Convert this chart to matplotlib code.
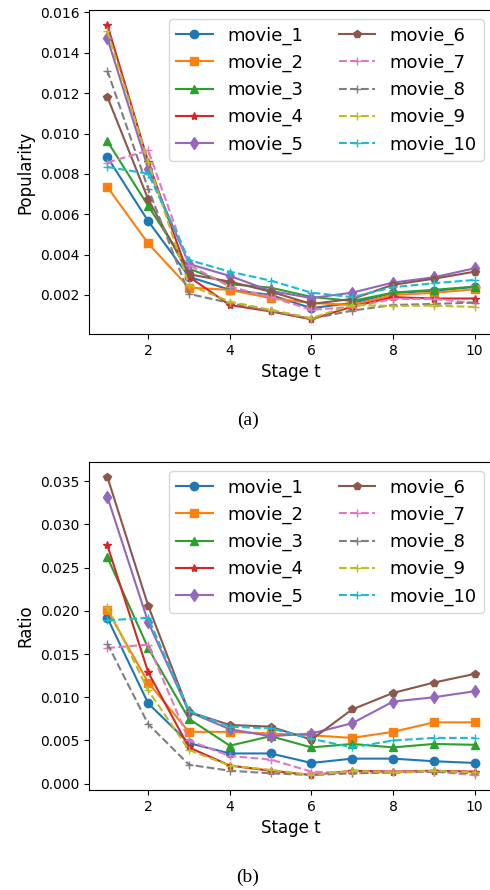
import matplotlib.pyplot as plt

stages = [1, 2, 3, 4, 5, 6, 7, 8, 9, 10]
names = ["movie_1", "movie_2", "movie_3", "movie_4", "movie_5",
         "movie_6", "movie_7", "movie_8", "movie_9", "movie_10"]

# (a) popularity per stage
popularity = {
    "movie_1": [0.00883, 0.00566, 0.00290, 0.00225, 0.00200, 0.00134, 0.00160, 0.00210, 0.00220, 0.00240],
    "movie_2": [0.00735, 0.00455, 0.00236, 0.00225, 0.00184, 0.00160, 0.00150, 0.00200, 0.00210, 0.00228],
    "movie_3": [0.00962, 0.00641, 0.00330, 0.00253, 0.00236, 0.00190, 0.00170, 0.00211, 0.00225, 0.00241],
    "movie_4": [0.01539, 0.00860, 0.00290, 0.00150, 0.00118, 0.00079, 0.00142, 0.00189, 0.00182, 0.00182],
    "movie_5": [0.01473, 0.00826, 0.00353, 0.00294, 0.00220, 0.00184, 0.00211, 0.00261, 0.00287, 0.00332],
    "movie_6": [0.01182, 0.00674, 0.00302, 0.00266, 0.00216, 0.00155, 0.00180, 0.00250, 0.00280, 0.00315],
    "movie_7": [0.00856, 0.00916, 0.00348, 0.00241, 0.00190, 0.00126, 0.00140, 0.00180, 0.00180, 0.00160],
    "movie_8": [0.01312, 0.00727, 0.00205, 0.00160, 0.00120, 0.00082, 0.00122, 0.00150, 0.00155, 0.00162],
    "movie_9": [0.01506, 0.00859, 0.00249, 0.00167, 0.00126, 0.00085, 0.00150, 0.00145, 0.00147, 0.00140],
    "movie_10": [0.00834, 0.00801, 0.00373, 0.00315, 0.00271, 0.00211, 0.00189, 0.00238, 0.00258, 0.00274],
}

# (b) ratio per stage
ratio = {
    "movie_1": [0.0192, 0.0093, 0.0047, 0.0035, 0.0035, 0.0024, 0.0029, 0.0029, 0.0026, 0.0024],
    "movie_2": [0.0201, 0.0117, 0.0060, 0.0060, 0.0058, 0.0056, 0.0053, 0.0060, 0.0071, 0.0071],
    "movie_3": [0.0262, 0.0157, 0.0075, 0.0044, 0.0055, 0.0042, 0.0046, 0.0042, 0.0046, 0.0045],
    "movie_4": [0.0276, 0.0129, 0.0042, 0.0021, 0.0015, 0.0010, 0.0015, 0.0014, 0.0015, 0.0014],
    "movie_5": [0.0332, 0.0187, 0.0083, 0.0063, 0.0055, 0.0058, 0.0070, 0.0095, 0.0100, 0.0107],
    "movie_6": [0.0355, 0.0206, 0.0083, 0.0068, 0.0066, 0.0051, 0.0086, 0.0105, 0.0117, 0.0127],
    "movie_7": [0.0157, 0.0161, 0.0050, 0.0032, 0.0028, 0.0014, 0.0012, 0.0013, 0.0014, 0.0010],
    "movie_8": [0.0162, 0.0069, 0.0022, 0.0015, 0.0012, 0.0010, 0.0012, 0.0013, 0.0014, 0.0012],
    "movie_9": [0.0205, 0.0108, 0.0039, 0.0021, 0.0016, 0.0010, 0.0015, 0.0013, 0.0015, 0.0013],
    "movie_10": [0.0189, 0.0192, 0.0084, 0.0066, 0.0064, 0.0052, 0.0042, 0.0050, 0.0053, 0.0053],
}

colors = ["tab:blue", "tab:orange", "tab:green", "tab:red", "tab:purple",
          "tab:brown", "tab:pink", "tab:gray", "tab:olive", "tab:cyan"]
markers = ["o", "s", "^", "*", "d", "p", "+", "+", "+", "+"]
styles = ["-", "-", "-", "-", "-", "-", "--", "--", "--", "--"]


def draw(ax, data, ylabel):
    for name, c, m, ls in zip(names, colors, markers, styles):
        ax.plot(stages, data[name], color=c, marker=m, linestyle=ls, label=name)
    ax.set_xticks([2, 4, 6, 8, 10])
    ax.set_xlabel("Stage t", fontsize=12)
    ax.set_ylabel(ylabel, fontsize=12)
    ax.legend(ncol=2, fontsize=13, loc="upper right")


fig = plt.figure(figsize=(4.9, 8.9), dpi=100)
ax1 = fig.add_axes([0.1816, 0.6247, 0.8245, 0.364])
ax2 = fig.add_axes([0.1816, 0.1124, 0.8245, 0.3685])
draw(ax1, popularity, "Popularity")
draw(ax2, ratio, "Ratio")

fig.text(0.506, 0.528, "(a)", ha="center", va="center", fontsize=14, family="Liberation Serif")
fig.text(0.506, 0.014, "(b)", ha="center", va="center", fontsize=14, family="Liberation Serif")

fig.savefig("out.png", dpi=100)
plt.close(fig)
